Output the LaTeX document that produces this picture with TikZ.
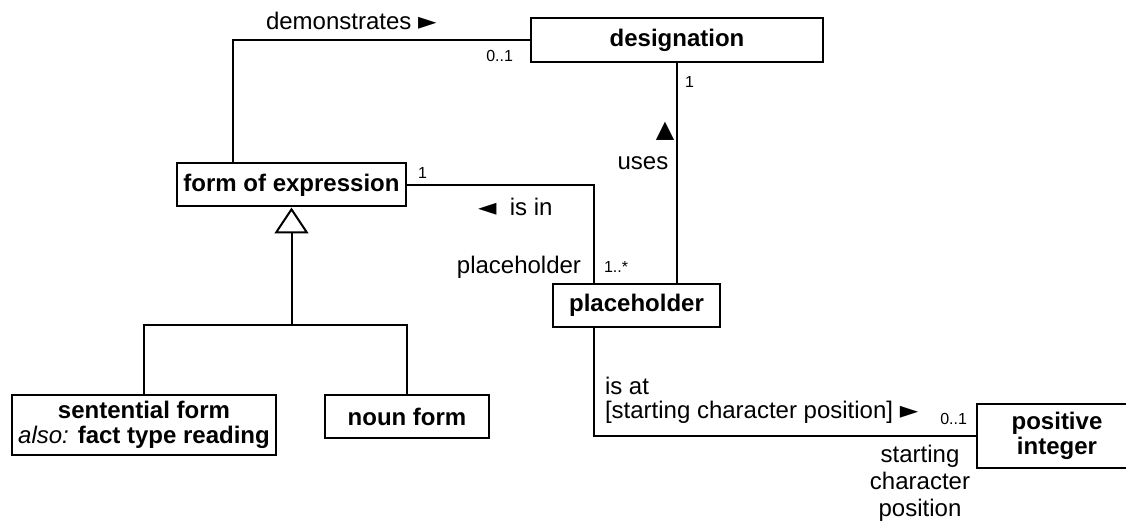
\documentclass[tikz,border=0pt]{standalone}
\usepackage{fontspec}
\setmainfont{Liberation Sans}
\newfontfamily\symfont{DejaVu Sans}
\usepackage{tikz}
\usetikzlibrary{arrows.meta}

\newcommand{\rdir}[1]{{\symfont #1}}

\tikzset{
  cls/.style={draw, line width=1pt, font=\fontsize{12}{12.5}\selectfont\bfseries, align=center, inner sep=0pt},
  lbl/.style={font=\fontsize{12}{13.5}\selectfont, inner sep=0pt},
  mult/.style={font=\fontsize{8}{9}\selectfont, inner sep=0pt},
}

\begin{document}
\begin{tikzpicture}[x=0.5pt, y=-0.5pt, line width=1pt]
        \useasboundingbox (0,0) rectangle (1126,523);

        % classes
        \node [cls, minimum width=146pt, minimum height=22pt] (desig) at (677,40) {designation};
        \node [cls, minimum width=114.5pt, minimum height=21.5pt] (form) at (291.5,185) {form of expression};
        \node [cls, minimum width=83.5pt, minimum height=21.5pt] (ph) at (636.5,305.5) {placeholder};
        \node [cls, minimum width=132pt, minimum height=30pt] (sent) at (144,425) {sentential form\\{\mdseries\itshape also:} fact type reading};
        \node [cls, minimum width=82pt, minimum height=21.5pt] (noun) at (407,416.5) {noun form};
        \node [cls, minimum width=80pt, minimum height=32pt] (posint) at (1057,436) {positive\\integer};
        \coordinate (gen) at (291.5,325);

        % associations
        \draw ([xshift=28.5pt]form.north west) |- (desig.west);
        \draw (desig.south) -- (desig.south |- ph.north);
        \draw (form.east) -| ([xshift=21pt]ph.north west);
        \draw ([xshift=21pt]ph.south west) |- (posint.west);

        % generalization
        \draw [-{Triangle[open, width=17pt, length=13pt]}] (gen) -- (form.south);
        \draw (sent.north) |- (gen) -| (noun.north);

        % labels
        \node [lbl, anchor=west] (demon) at (265,21) {demonstrates \rdir{►}};
        \node [mult, anchor=east] (m01a) at (514,56) {0..1};
        \node [mult, anchor=west] (m1a) at (684,82) {1};
        \node [lbl] (upar) at (665,131) {\rdir{▲}};
        \node [lbl] (uses) at (643,163) {uses};
        \node [mult, anchor=west] (m1b) at (417,173) {1};
        \node [lbl, anchor=west] (isin) at (477,207) {\rdir{◄}\ \ is in};
        \node [lbl, anchor=east] (phrole) at (582,267) {placeholder};
        \node [mult, anchor=west] (m1n) at (603,267) {1..*};
        \node [lbl, anchor=west] (isat) at (604,386) {is at};
        \node [lbl, anchor=west] (scp) at (604,412) {[starting character position] \rdir{►}};
        \node [mult, anchor=east] (m01b) at (968,419) {0..1};
        \node [lbl, align=center] (scprole) at (920,483) {starting\\character\\position};
\end{tikzpicture}
\end{document}
